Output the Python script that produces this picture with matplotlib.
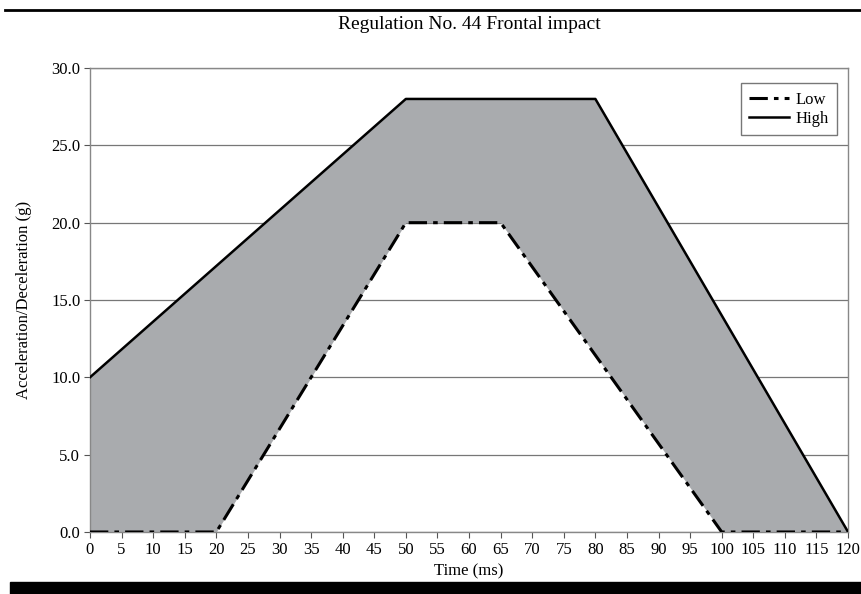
import matplotlib.pyplot as plt
import numpy as np

# data
time_high = [0, 50, 80, 120]
accel_high = [10, 28, 28, 0]
time_low = [0, 20, 50, 65, 100, 120]
accel_low = [0, 0, 20, 20, 0, 0]
x_ticks = list(range(0, 121, 5))
y_ticks = [0, 5, 10, 15, 20, 25, 30]

plt.rcParams['font.family'] = ['Liberation Serif', 'DejaVu Serif']

fig = plt.figure(figsize=(8.61, 5.94), dpi=100)
ax = fig.add_axes([0.1045, 0.1044, 0.8805, 0.7811])

# common time grid so the band can be filled between the two curves
t = np.union1d(time_high, time_low)
hi = np.interp(t, time_high, accel_high)
lo = np.interp(t, time_low, accel_low)
ax.fill_between(t, lo, hi, color='#a9abae', linewidth=0, zorder=1)

ax.plot(time_low, accel_low, color='black', linestyle=(0, (6, 2, 1.5, 2)), linewidth=2.2, label='Low', zorder=3)
ax.plot(time_high, accel_high, color='black', linestyle='-', linewidth=1.8, label='High', zorder=3)

ax.set_xlim(0, 120)
ax.set_ylim(0, 30)
ax.set_xticks(x_ticks)
ax.set_yticks(y_ticks)
ax.set_yticklabels([f'{v:.1f}' for v in y_ticks])
ax.tick_params(direction='out', length=4, width=0.8, color='#555555', labelsize=12, pad=3)
ax.yaxis.grid(True, color='#777777', linewidth=0.9, zorder=0)
ax.set_axisbelow(True)
for s in ax.spines.values():
    s.set_color('#888888')
    s.set_linewidth(1.0)

ax.set_xlabel('Time (ms)', fontsize=12, labelpad=4)
ax.set_ylabel('Acceleration/Deceleration (g)', fontsize=12, labelpad=14)
ax.set_title('Regulation No. 44 Frontal impact', fontsize=14, pad=28)

leg = ax.legend(loc='upper right', fontsize=12, frameon=True, fancybox=False,
                handlelength=2.4, borderpad=0.5, labelspacing=0.2, handletextpad=0.4,
                bbox_to_anchor=(0.9965, 0.985))
leg.get_frame().set_edgecolor('#555555')
leg.get_frame().set_linewidth(1.0)

# page rules from the scanned book
fig.add_artist(plt.Line2D([0.006, 1.0], [0.983, 0.983], color='black', linewidth=2))
fig.add_artist(plt.Rectangle((0.012, 0.0), 0.988, 0.02, color='black', transform=fig.transFigure))

fig.savefig('out.png', dpi=100)
